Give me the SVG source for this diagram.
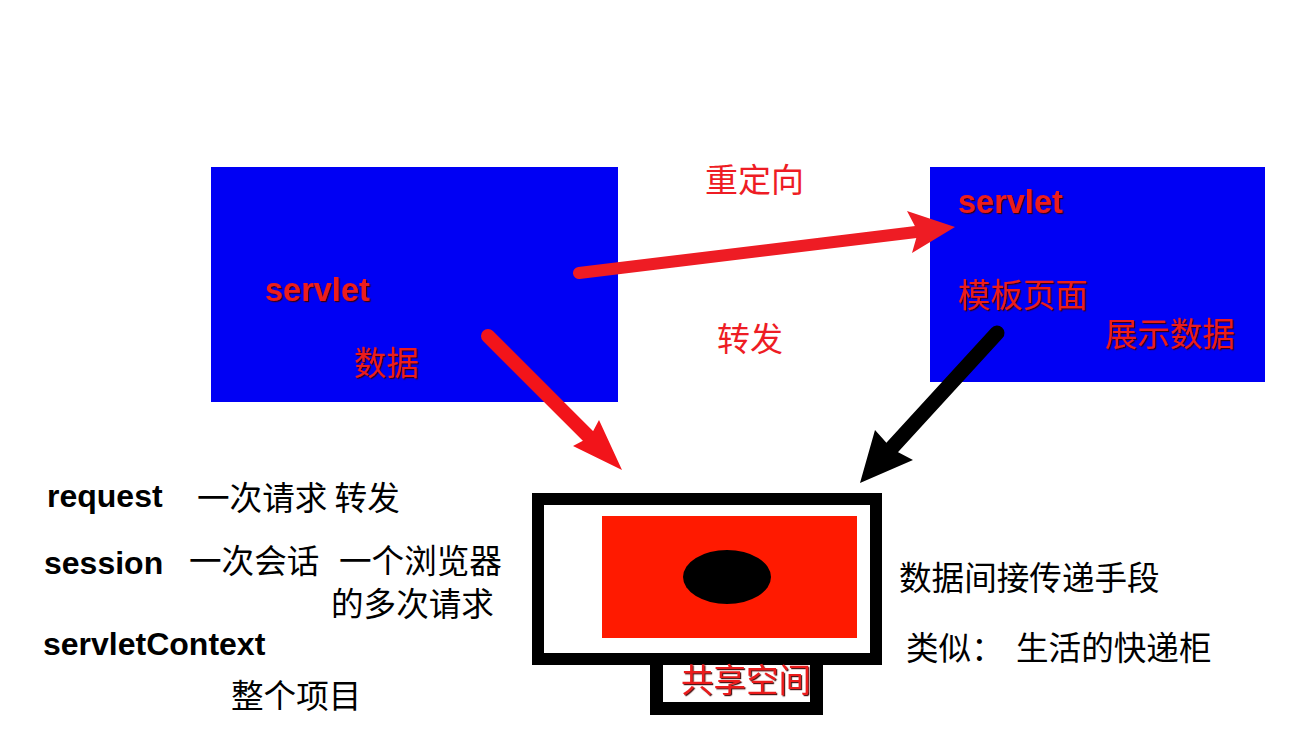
<svg xmlns="http://www.w3.org/2000/svg" width="1298" height="743" viewBox="0 0 1298 743">
<style>
.blue{fill:#0000F4}
.rt{fill:#EC1C1C;font-family:"Liberation Sans",Arial,sans-serif;font-weight:bold;font-size:32.5px}
.rc{fill:#EC1C1C;font-family:"Noto Sans CJK SC",sans-serif;font-size:32.5px}
.rl{fill:#EE1C24;font-family:"Noto Sans CJK SC",sans-serif;font-size:33px}
.bt{fill:#000;font-family:"Liberation Sans",Arial,sans-serif;font-weight:bold;font-size:32px}
.bc{fill:#000;font-family:"Noto Sans CJK SC",sans-serif;font-size:32.6px}
.sh{filter:url(#shadow)}
</style>
<defs>
<filter id="shadow" x="-10%" y="-20%" width="120%" height="150%">
<feDropShadow dx="1.2" dy="1.2" stdDeviation="0.6" flood-color="#3a0000" flood-opacity="0.9"/>
</filter>
</defs>
<rect width="1298" height="743" fill="#fff"/>

<g id="servlet-left">
<rect class="blue" x="211" y="167" width="407" height="235"/>
<text class="rt sh" x="265" y="301">servlet</text>
<text class="rc sh" x="354" y="375">数据</text>
</g>

<g id="servlet-right">
<rect class="blue" x="930" y="167" width="335" height="215"/>
<text class="rt sh" x="958" y="213">servlet</text>
<text class="rc sh" x="958" y="307">模板页面</text>
<text class="rc sh" x="1105" y="346">展示数据</text>
</g>

<g id="labels-mid">
<text class="rl" x="705" y="192">重定向</text>
<text class="rl" x="717" y="351">转发</text>
</g>

<g id="shared-space">
<rect x="656.5" y="657.5" width="160" height="51" fill="#fff" stroke="#000" stroke-width="13"/>
<rect x="538" y="499" width="338" height="160" fill="#fff" stroke="#000" stroke-width="12"/>
<rect x="602" y="516" width="255" height="122" fill="#FF1A00"/>
<ellipse cx="727" cy="577" rx="44" ry="27" fill="#000"/>
<text class="rc sh" x="681" y="692">共享空间</text>
</g>

<g id="connectors">
<line x1="579" y1="273" x2="916" y2="232" stroke="#EE1C24" stroke-width="12" stroke-linecap="round"/>
<polygon points="955,227 907,211 918,232 912,253" fill="#EE1C24"/>
<line x1="488" y1="336" x2="592" y2="440" stroke="#F2141A" stroke-width="14" stroke-linecap="round"/>
<polygon points="622,470 573,446 590,437 599,420" fill="#F2141A"/>
<line x1="997" y1="333" x2="888" y2="452" stroke="#000" stroke-width="15" stroke-linecap="round"/>
<polygon points="860,483 875,430 892,449 913,460" fill="#000"/>
</g>

<g id="scopes">
<text class="bt" x="47" y="507">request</text>
<text class="bc" x="197" y="510">一次请求 转发</text>
<text class="bt" x="44" y="574">session</text>
<text class="bc" x="189" y="573">一次会话</text>
<text class="bc" x="339" y="573">一个浏览器</text>
<text class="bc" x="331" y="616">的多次请求</text>
<text class="bt" x="43" y="655">servletContext</text>
<text class="bc" x="231" y="708">整个项目</text>
</g>

<g id="notes">
<text class="bc" x="899" y="590">数据间接传递手段</text>
<text class="bc" x="906" y="660">类似：</text>
<text class="bc" x="1016" y="660">生活的快递柜</text>
</g>
</svg>
